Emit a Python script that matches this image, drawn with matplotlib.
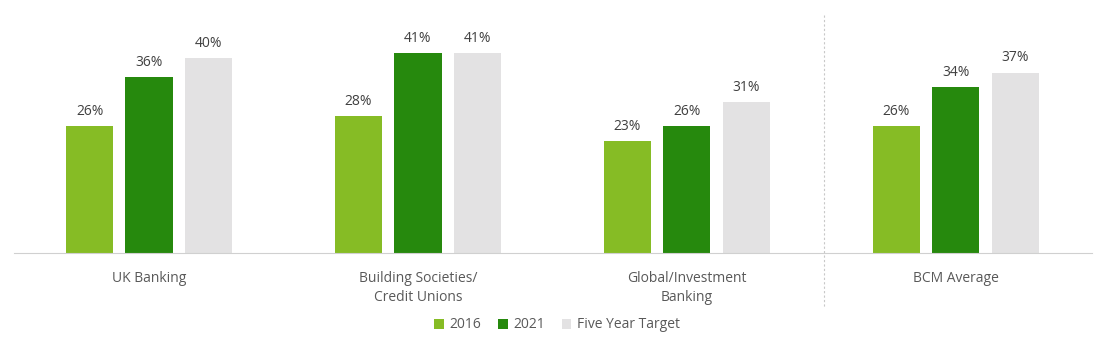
import matplotlib.pyplot as plt
import numpy as np

plt.rcParams['font.family'] = ['Open Sans', 'DejaVu Sans']

categories = ['UK Banking', 'Building Societies/\nCredit Unions', 'Global/Investment\nBanking', 'BCM Average']
series_names = ['2016', '2021', 'Five Year Target']
v2016 = [26, 28, 23, 26]
v2021 = [36, 41, 26, 34]
target = [40, 41, 31, 37]
colors = ['#86BC25', '#26890D', '#E3E2E3']

fig = plt.figure(figsize=(11.03, 3.5), dpi=100)
ax = fig.add_axes([14 / 1103, 1 - 253 / 350, (1092 - 14) / 1103, (253 - 33.6) / 350])

x = np.arange(len(categories))
w = 0.175
off = 0.221
for i, (vals, name) in enumerate(zip([v2016, v2021, target], series_names)):
    pos = x + (i - 1) * off
    ax.bar(pos, vals, width=w, color=colors[i], label=name)
    for p, v in zip(pos, vals):
        ax.text(p, v + 1.5, f'{v}%', ha='center', va='bottom', fontsize=10, color='#404040')

ax.set_xlim(-0.502, 3.506)
ax.set_ylim(0, 45)
ax.set_yticks([])
ax.set_xticks(x)
ax.set_xticklabels(categories, fontsize=10, color='#595959', linespacing=1.35)
ax.tick_params(axis='x', length=0, pad=13)
for s in ['top', 'right', 'left']:
    ax.spines[s].set_visible(False)
ax.spines['bottom'].set_color('#D0D0D0')

# separator before the average
ax.plot([2.509, 2.509], [48.8, -11.3], color='#C8C8C8', lw=0.8, ls=(0, (2, 2)), clip_on=False)

leg = fig.legend(loc='center', bbox_to_anchor=(0.505, 1 - 325 / 350), ncol=3, frameon=False,
                 fontsize=10, handlelength=0.7, handleheight=0.7, handletextpad=0.4, columnspacing=1.2)
for t in leg.get_texts():
    t.set_color('#595959')

fig.savefig('out.png', dpi=100)
